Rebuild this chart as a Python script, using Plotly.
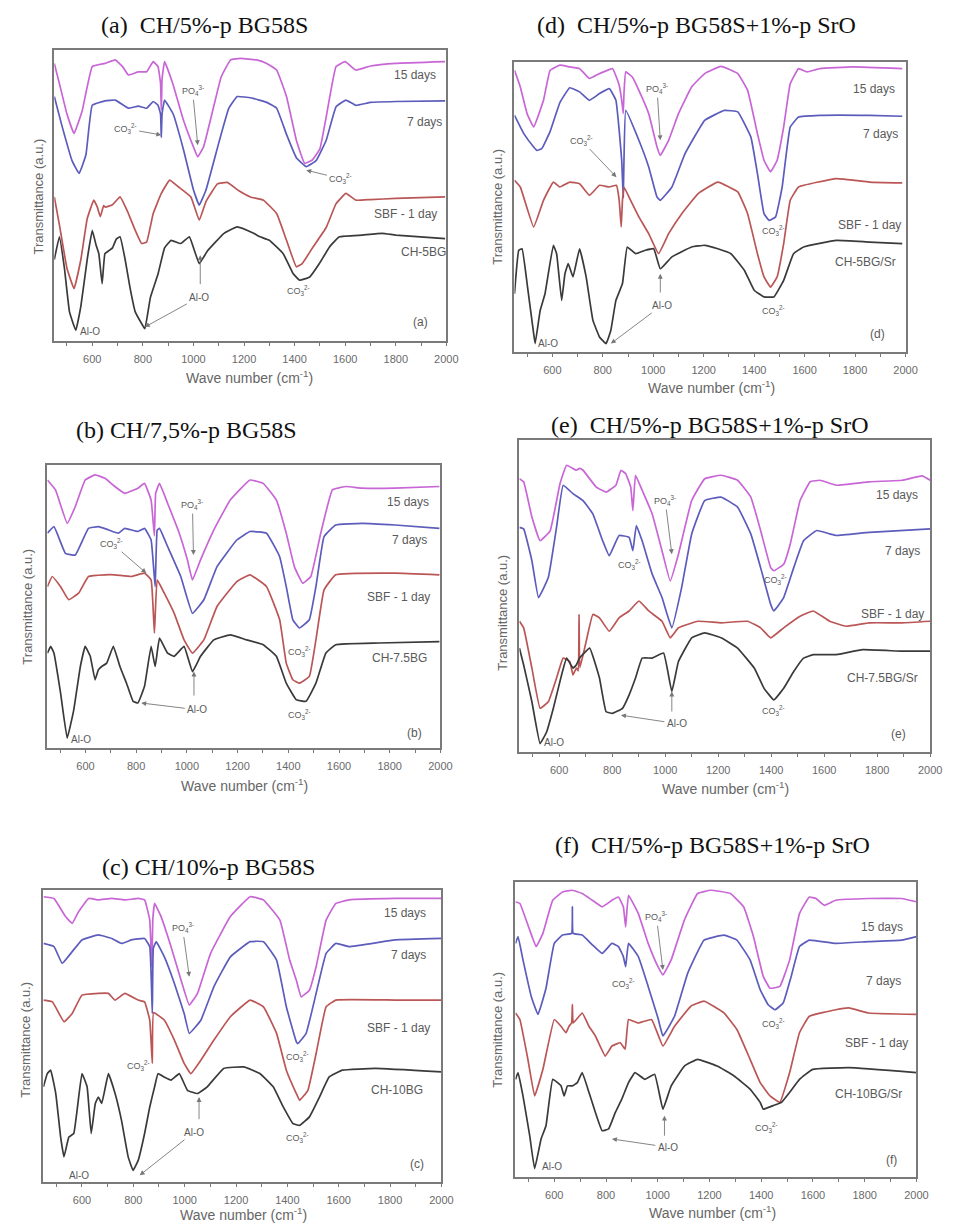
import plotly.graph_objects as go

W, H = 960, 1225

# ---------------- FTIR readings: wave number (cm-1) and transmittance (a.u., 0-100 per panel)
# Panel (a) CH/5%-p BG58S
A15_WN = [450,470,500,528,560,600,650,691,720,743,782,815,841,860,870,873,876,886,920,960,1000,1017,1040,1080,1110,1147,1186,1250,1290,1329,1368,1407,1440,1470,1500,1525,1564,1600,1642,1700,1800,1995]
A15_T = [95.4,88.5,78,71.3,79,94.3,95.4,96.6,94.3,91.4,92.5,92.5,96,94.3,88.5,79.4,90,96,88,76,66.7,63.3,66.7,80.5,90.8,96.6,97.1,96.6,95.4,93.1,84,69,61,62.2,66,77,94.3,96,93.1,94.5,95.4,96]
A7_WN = [450,480,520,548,575,600,650,691,743,782,815,841,860,870,873,876,886,920,960,1000,1023,1050,1100,1140,1173,1230,1290,1329,1368,1407,1446,1485,1525,1564,1603,1642,1700,1800,1995]
A7_T = [84,74,62,57.6,64,81,82.5,82.8,80,80.7,80,82.3,81,78,70,78,82.8,78,66,52,46.7,52,68,80,84,83.5,82,80,71,63,59.9,62,69,80.5,82.8,81,82,82.3,82.5]
A1_WN = [450,470,500,528,555,580,606,620,632,645,652,680,710,743,770,795,815,841,873,906,940,990,1023,1050,1095,1134,1180,1225,1277,1329,1368,1407,1430,1473,1525,1564,1603,1642,1700,1800,1995]
A1_T = [49.5,40,25,18,28,42,48.4,46,42.7,46.5,46,46.8,49.5,43.8,38,33.5,34,43.8,50.7,55.3,53,49.5,41.5,48,54,54.5,51.6,49.5,48.4,43.8,34.6,25.5,26.6,32.3,39,47.2,50.7,48.4,48.6,49,49.5]
A0_WN = [450,470,490,510,535,555,580,600,615,626,639,650,665,680,695,710,730,750,770,795,808,830,860,886,912,950,984,1023,1056,1121,1173,1238,1264,1300,1355,1394,1420,1460,1498,1538,1577,1668,1746,1800,1995]
A0_T = [28,35.8,25,10,3.7,12,28,38,33,30,19.7,30,31,32,35,35.8,28,18,10,6,4.2,15,23,32,34.6,33.5,35.8,26.6,31,37,39.2,37,35.8,34.6,30,23.2,20.9,22,26.6,32.3,35.8,36.4,37,36.4,35.2]

# Panel (b) CH/7,5%-p BG58S
B15_WN = [450,482,528,560,599,638,677,716,755,807,833,859,872,877,892,924,970,1002,1022,1054,1106,1171,1249,1301,1353,1392,1424,1457,1489,1528,1574,1626,1691,1821,1996]
B15_T = [94.7,91.2,79.4,85.3,94.7,96.5,95.3,92.4,90,91.8,93.5,87.6,75,90,93.5,86.5,75.9,66.5,59.4,66.5,77,87.6,94.7,93.5,87.6,75.9,64.1,58.2,60.6,75.9,91.2,92.4,91.8,91.8,92.4]
B7_WN = [450,476,521,560,612,651,690,729,755,807,833,859,875,883,892,924,976,1022,1067,1119,1197,1249,1314,1366,1392,1418,1444,1483,1509,1541,1587,1691,1821,1996]
B7_T = [75.9,78.2,68.8,68.2,77.6,78.2,77.1,75.9,77.6,76.5,77.6,73.5,57,77,77.6,71.2,60.6,47.6,52.4,64.1,73.5,76.5,75.9,67.6,57,45.3,42.4,45.3,57,74.7,78.8,79.4,78.8,77.6]
B1_WN = [450,469,502,534,573,612,677,716,781,833,859,872,883,911,950,989,1022,1067,1119,1197,1249,1314,1366,1392,1418,1444,1483,1509,1541,1587,1821,1996]
B1_T = [57,60.6,57,52.4,54.7,60.6,61.2,61.2,60.6,61.8,59.4,40.6,59.4,54.7,47.6,38.2,33.5,38.2,50,58.8,61.2,57.1,45.3,30,24.1,22.9,25.3,38.2,55.9,61.2,61.8,61.2]
B0_WN = [450,463,476,502,528,554,580,599,619,638,651,664,684,710,736,762,788,807,833,859,875,892,924,950,989,1022,1054,1106,1171,1236,1301,1353,1392,1431,1470,1509,1548,1587,1756,1996]
B0_T = [33.5,35.9,33.5,19.4,3.5,13.5,28.8,35.9,32.4,24.1,27.6,28.8,30,35.9,28.8,22.9,16.5,15.9,21.8,35.9,28.8,38.8,33.5,32.4,35.9,27,32.4,38.2,40,38.2,36.5,32.4,22.9,17.1,16.5,22.9,33.5,36.5,37.1,37.6]

# Panel (c) CH/10%-p BG58S
C15_WN = [450,491,536,562,587,626,664,716,767,819,844,864,872,876,883,908,947,986,1018,1050,1101,1178,1255,1307,1371,1409,1435,1454,1486,1512,1551,1589,1640,1820,2000]
C15_T = [97.7,97.1,90.9,88.6,92.6,97.1,96.6,97.1,96.6,97.1,96.6,89.7,73.7,90,95.4,90.9,80.6,69.1,60.6,64.6,78.3,90.9,97.7,96.6,89.7,76,69.1,63.4,65.7,73.7,89.7,95.4,96.6,97.1,97.1]
C7_WN = [450,491,523,562,600,664,716,754,793,844,864,874,878,889,921,960,998,1018,1063,1114,1178,1255,1307,1358,1396,1435,1441,1473,1512,1551,1589,1640,1820,2000]
C7_T = [81.7,80.6,74.9,78.9,82.9,84.6,83.4,81.7,82.9,83.4,80.6,57.7,80,82.3,77.1,68,57.7,50.9,55.4,66.9,77.1,82.3,82.3,76,60,48,47.4,50.9,64.6,78.3,81.7,80.6,82.9,83.4]
C1_WN = [450,485,530,562,600,664,703,729,767,819,844,864,874,879,921,960,998,1024,1063,1114,1178,1255,1307,1358,1396,1435,1448,1480,1512,1551,1589,1820,2000]
C1_T = [62.3,61.7,54.9,57.7,64,64.6,64.6,62.3,64.6,62.3,61.7,55.4,40.6,58,55.4,48.6,40.6,37.1,41.7,48.6,56.6,62.3,60,50.9,38.3,30.3,28,31.4,44,60,62.3,62.3,62.3]
C0_WN = [450,465,478,498,517,530,549,568,600,620,636,652,664,677,703,729,754,780,799,819,844,864,883,896,921,947,979,1011,1050,1088,1152,1230,1294,1345,1384,1422,1448,1486,1525,1563,1615,1743,2000]
C0_T = [32.6,37.1,38.3,30.3,15.4,8.6,15.4,16.6,37.1,32.6,16.6,26.9,29.1,26.9,37.1,30.3,21.1,8.6,4,7.4,16.6,25.7,32.6,37.1,35.9,34.9,37.1,31.4,30.3,32.6,38.9,39.4,37.1,32.6,25.7,20,19.4,22.3,29.1,36,38.3,38.9,37.7]

# Panel (d) CH/5%-p BG58S+1%-p SrO
D15_WN = [450,473,500,526,565,591,630,669,708,747,787,839,865,875,881,884,891,917,943,982,1015,1028,1061,1100,1152,1204,1269,1335,1374,1413,1439,1465,1491,1517,1543,1576,1609,1661,1791,1987]
D15_T = [97.1,91.4,82.2,77.6,86.8,97.1,98.9,98.3,97.7,94.3,96,97.7,92,86.8,82.2,89.1,96.6,94.8,90.2,82.2,70.7,67.8,73,82.2,91.4,96,98.5,96,90.2,75.3,66.1,62.1,66.1,77.6,92.5,97.7,96.6,97.7,98.3,97.7]
D7_WN = [450,487,526,539,558,591,630,669,708,747,787,826,852,865,875,881,884,891,943,982,1015,1028,1074,1126,1204,1282,1335,1387,1413,1439,1459,1485,1511,1543,1576,1661,1857,1987]
D7_T = [81.6,75.3,70.7,69.5,70.1,76,86,91.1,89.7,86.8,89.1,90.8,86.8,76.4,66.1,53.4,66.1,83.3,73,63.8,53.4,52.3,56.9,68.4,79.9,83.3,82.8,74.1,61.5,47.7,45.4,46.6,56.9,77.6,81,81.6,81.6,81.3]
D1_WN = [450,473,526,565,604,630,669,708,747,787,826,854,865,873,878,884,904,943,982,1021,1061,1113,1178,1256,1335,1374,1413,1439,1465,1491,1517,1543,1576,1726,1857,1987]
D1_T = [59.2,56.9,43.1,52.3,58.6,56.9,58.6,58,54,57.5,56.9,57.5,52.3,43.1,52.3,56.9,53.4,46.6,40.8,33.9,40.8,47.7,54.6,58.6,55.2,47.7,33.9,25.9,22.4,25.9,37.4,52.3,56.9,59.8,58.6,58.3]
D0_WN = [450,467,480,500,526,532,552,571,604,617,637,650,663,682,708,734,761,787,813,832,852,878,897,930,969,1002,1028,1074,1152,1204,1256,1308,1361,1400,1439,1478,1517,1556,1596,1726,1857,1987]
D0_T = [20.1,35.1,35.6,23.6,6.3,2.9,14.4,20.1,36.8,33.9,17.8,27,30.5,25.9,35.6,25.9,10.9,5.2,2.9,7.5,17.8,23.6,36.2,33.9,35.1,35.6,28.7,32.8,36.2,36.8,35.6,33.9,28.2,21.3,19,19,24.7,33.9,36.2,38.5,37.9,37.4]

# Panel (e) CH/5%-p BG58S+1%-p SrO
E15_WN = [450,466,497,528,566,603,628,665,677,690,739,777,814,833,851,870,878,888,913,951,988,1019,1050,1100,1149,1211,1273,1323,1360,1398,1410,1447,1472,1509,1547,1584,1646,1770,1894,1969,2000]
E15_T = [87.6,86.6,75.3,67.7,70.9,86,91.9,90.3,90.9,90.3,85,83.3,85.5,90.3,89.2,84.9,77.4,88.7,83.9,76.3,64.5,54.8,63.4,80.6,87.6,88.7,87.1,81.7,71,59.1,58.1,60.2,66.7,80.6,86.6,87.1,85.5,86.6,87.1,88.5,87.1]
E7_WN = [450,466,497,522,559,590,615,652,690,727,764,789,826,864,878,891,913,951,988,1025,1062,1100,1149,1211,1273,1323,1360,1398,1410,1447,1485,1522,1572,1621,1646,1770,2000]
E7_T = [72,71.5,61.3,49.5,55.9,72,85.5,82.8,80.6,76.3,67.7,62.9,69.4,68.8,64.5,72.6,67.7,57,49.5,39.8,52.7,69.9,80.6,81.7,78.5,69.9,59.1,47.3,45.2,49.5,59.1,67.7,71,69.9,69.4,70.4,71.5]
E1_WN = [450,466,497,528,559,590,615,640,652,665,672,675,678,702,727,752,789,826,864,901,938,988,1019,1050,1124,1211,1311,1360,1398,1447,1509,1559,1621,1683,1770,1894,2000]
E1_T = [41.9,39.8,26.9,14,16.1,23.7,30.1,29,24.7,26.9,26,44.1,27,35.5,44.1,43,38.7,43,45.2,48.4,45.2,41.9,36.6,39.8,41.9,41.4,41.9,39.8,36.6,39.8,43.5,45.2,41.9,40.3,41.4,41.4,41.9]
E0_WN = [450,466,497,528,553,578,609,628,652,665,677,715,752,777,801,839,864,888,913,951,994,1025,1050,1100,1149,1211,1273,1336,1373,1410,1447,1485,1522,1559,1646,1745,1894,2000]
E0_T = [33.3,27.9,16.1,2.7,6.5,14,24.7,30.1,26.9,28,30.1,33.3,23.7,12.9,12.4,14,18.3,23.7,30.1,30.1,31.7,19.4,29,36.6,38.2,36.6,33.3,26.9,20.4,16.7,20.4,25.8,30.1,31.2,31.2,32.8,32.3,32.3]

# Panel (f) CH/5%-p BG58S+1%-p SrO
F15_WN = [450,467,505,530,556,594,632,670,708,747,785,823,848,867,876,887,925,963,1001,1020,1052,1103,1154,1205,1281,1332,1370,1408,1434,1472,1510,1548,1586,1612,1644,1688,1816,1943,2000]
F15_T = [93.3,92.7,83.7,78.1,82.6,93.8,96.6,97.2,96.1,93.8,91.6,93.8,94.9,91.6,84.8,95.5,89.3,79.2,71.3,68.5,73.6,87.1,96.1,97.2,96.1,91.6,81.5,68,64,64.6,73.6,89.3,94.9,94.4,92.1,93.8,94.4,94.4,93.3]
F7_WN = [450,460,479,511,537,568,600,632,667,670,673,708,747,785,823,848,867,876,887,925,963,1001,1020,1065,1116,1179,1256,1306,1357,1396,1427,1453,1485,1516,1548,1586,1688,1816,1943,2000]
F7_T = [79.2,81.5,73.6,61.2,55.1,64,79.2,82,82.6,91.6,82.6,82,78.7,75.8,79.2,78.1,74.7,71.3,79.2,74.7,64.6,53.9,47.8,54.5,69.1,80.3,82,80.3,73.6,63.5,58.4,56.7,59,68,78.1,80.3,79.2,79.8,80.3,81.5]
F1_WN = [450,467,498,524,556,600,626,645,657,667,670,673,708,734,759,797,823,855,874,887,925,976,1020,1065,1128,1179,1256,1306,1357,1396,1434,1472,1510,1548,1586,1688,1739,1816,2000]
F1_T = [55.6,53.4,39.9,27.5,36.5,53.4,51.1,48.9,51.1,52.2,58.4,52.2,55.6,51.1,47.8,41,44.4,45.5,43.3,53.4,52.2,53.4,44.4,51.1,57.9,59.6,55.6,50,39.9,32,27.5,25.3,35.4,48.9,54.5,56.7,57.3,55.6,55.1]
F0_WN = [450,460,479,505,524,549,568,594,626,638,651,670,689,708,734,759,785,810,836,861,887,912,950,988,1020,1052,1103,1154,1230,1294,1357,1396,1408,1446,1478,1510,1548,1599,1739,2000]
F0_T = [33.1,35.4,27.5,14,2.8,12.9,17.4,33.1,30.9,27.5,30.9,30.9,32,35.4,28.7,21.9,15.7,16.3,21.9,26.4,32,35.4,33.1,34.8,23,30.9,37.6,39.9,37.6,34.3,29.8,25.3,23,24.2,25.3,28.7,33.1,36.5,37.1,35.4]

# Axis range and tick labels
WN_RANGE = [450, 2000]
WN_TICKS = [600, 800, 1000, 1200, 1400, 1600, 1800, 2000]

CO3 = "CO<sub>3</sub><sup>2-</sup>"
PO4 = "PO<sub>4</sub><sup>3-</sup>"

# 15 days, 7 days, SBF - 1 day, as-prepared
LINE_COLORS = ["#c866d6", "#5c5cbc", "#bb5656", "#3a3a3a"]

SANS = "Liberation Sans, Arial, sans-serif"
SERIF = "Liberation Serif, Times New Roman, serif"
GREY = "#5a5a5a"

# box = (left, right, top, bottom) in pixels
PANELS = [
    dict(box=(55, 452, 50, 341), title="(a)  CH/5%-p BG58S", title_px=(207, 25),
         xtitle_px=(253, 377), ytitle_px=(38, 197),
         series=[(A15_WN, A15_T), (A7_WN, A7_T), (A1_WN, A1_T), (A0_WN, A0_T)],
         names=[("15 days", 1876, 91.4), ("7 days", 1915, 75.3), ("SBF - 1 day", 1837, 43.8),
                ("CH-5BG", 1909, 30.6), ("(a)", 1896, 6.5)],
         notes=[(CO3, 730, 73, 873, 70.8), (PO4, 997, 86, 1017, 67.3), (CO3, 1583, 55.8, 1446, 58.7),
                (CO3, 1414, 17.4, None, None), ("Al-O", 1023, 15.1, 808, 4.8), ("Al-O", 592, 3.1, None, None)],
         arrows=[(1027, 19, 1027, 29.5)]),
    dict(box=(48, 446, 465, 748), title="(b) CH/7,5%-p BG58S", title_px=(189, 430),
         xtitle_px=(248, 785), ytitle_px=(28, 607),
         series=[(B15_WN, B15_T), (B7_WN, B7_T), (B1_WN, B1_T), (B0_WN, B0_T)],
         names=[("15 days", 1873, 87), ("7 days", 1879, 73.5), ("SBF - 1 day", 1834, 53.5),
                ("CH-7.5BG", 1840, 31.8), ("(b)", 1899, 5.3)],
         notes=[(PO4, 1022, 86, 1026, 68.2), (CO3, 703, 72.4, 840, 61.8), (CO3, 1444, 34.1, None, None),
                (CO3, 1444, 11.8, None, None), ("Al-O", 1041, 13.5, 820, 15.9), ("Al-O", 582, 2.9, None, None)],
         arrows=[(1028, 18, 1028, 27)]),
    dict(box=(44, 447, 890, 1182), title="(c) CH/10%-p BG58S", title_px=(211, 867),
         xtitle_px=(247, 1214), ytitle_px=(25, 1040),
         series=[(C15_WN, C15_T), (C7_WN, C7_T), (C1_WN, C1_T), (C0_WN, C0_T)],
         names=[("15 days", 1859, 92), ("7 days", 1872, 77.7), ("SBF - 1 day", 1833, 52.6),
                ("CH-10BG", 1827, 31.4), ("(c)", 1904, 6.3)],
         notes=[(PO4, 992, 87, 1018, 70.3), (CO3, 819, 40, None, None), (CO3, 1441, 42.9, None, None),
                (CO3, 1441, 15.4, None, None), ("Al-O", 1037, 17.1, 825, 2.3), ("Al-O", 590, 2.3, None, None)],
         arrows=[(1056, 21, 1056, 29.1)]),
    dict(box=(521, 917, 62, 352), title="(d)  CH/5%-p BG58S+1%-p SrO", title_px=(705, 25),
         xtitle_px=(721, 387), ytitle_px=(503, 207),
         series=[(D15_WN, D15_T), (D7_WN, D7_T), (D1_WN, D1_T), (D0_WN, D0_T)],
         names=[("15 days", 1876, 90.8), ("7 days", 1902, 75.3), ("SBF - 1 day", 1856, 43.7),
                ("CH-5BG/Sr", 1843, 31), ("(d)", 1889, 6.3)],
         notes=[(PO4, 1015, 90.8, 1028, 73), (CO3, 715, 73, 854, 60.3), (CO3, 1478, 42, None, None),
                (CO3, 1478, 14.4, None, None), ("Al-O", 1034, 16.1, 832, 2.9), ("Al-O", 582, 2.9, None, None)],
         arrows=[(1028, 20, 1028, 27)]),
    dict(box=(526, 942, 440, 752), title="(e)  CH/5%-p BG58S+1%-p SrO", title_px=(719, 425),
         xtitle_px=(735, 788), ytitle_px=(508, 613),
         series=[(E15_WN, E15_T), (E7_WN, E7_T), (E1_WN, E1_T), (E0_WN, E0_T)],
         names=[("15 days", 1876, 82.3), ("7 days", 1894, 64.5), ("SBF - 1 day", 1857, 44.1),
                ("CH-7.5BG/Sr", 1820, 23.7), ("(e)", 1882, 5.9)],
         notes=[(PO4, 1000, 80.6, 1025, 63.4), (CO3, 864, 60.2, None, None), (CO3, 1416, 55.4, None, None),
                (CO3, 1410, 13.4, None, None), ("Al-O", 1044, 9.1, 833, 11.8), ("Al-O", 582, 3.2, None, None)],
         arrows=[(1025, 12.5, 1025, 19.4)]),
    dict(box=(522, 928, 882, 1177), title="(f)  CH/5%-p BG58S+1%-p SrO", title_px=(722, 845),
         xtitle_px=(722, 1212), ytitle_px=(503, 1030),
         series=[(F15_WN, F15_T), (F7_WN, F7_T), (F1_WN, F1_T), (F0_WN, F0_T)],
         names=[("15 days", 1866, 84.8), ("7 days", 1873, 66.3), ("SBF - 1 day", 1847, 45.5),
                ("CH-10BG/Sr", 1815, 28.1), ("(f)", 1905, 5.6)],
         notes=[(PO4, 995, 88.2, 1020, 70.2), (CO3, 867, 65.7, None, None), (CO3, 1446, 52.2, None, None),
                (CO3, 1421, 16.9, None, None), ("Al-O", 1039, 10.1, 823, 12.9), ("Al-O", 590, 3.4, None, None)],
         arrows=[(1026, 13.5, 1026, 20.8)]),
]

fig = go.Figure()
annotations = []
layout_axes = {}

for i, p in enumerate(PANELS):
    n = i + 1
    suffix = "" if n == 1 else str(n)
    xa, ya = "x" + suffix, "y" + suffix
    left, right, top, bottom = p["box"]

    for (wn, t), color in zip(p["series"], LINE_COLORS):
        fig.add_trace(go.Scatter(
            x=wn, y=t, mode="lines", xaxis=xa, yaxis=ya,
            line=dict(color=color, width=1.7, shape="spline", smoothing=0.3),
            showlegend=False, hoverinfo="skip"))

    layout_axes["xaxis" + suffix] = dict(
        domain=[left / W, right / W], anchor=ya, range=WN_RANGE,
        tickmode="array", tickvals=WN_TICKS, ticktext=[str(v) for v in WN_TICKS],
        ticks="outside", ticklen=3, tickwidth=1, tickcolor="#7a7a7a",
        minor=dict(ticks="outside", ticklen=3, tickcolor="#7a7a7a", dtick=100, tick0=0, showgrid=False),
        ticklabelstandoff=4,
        tickfont=dict(family=SANS, size=11, color="#6a6a6a"),
        showline=True, linecolor="#7a7a7a", linewidth=1.6, mirror=True,
        showgrid=False, zeroline=False)
    layout_axes["yaxis" + suffix] = dict(
        domain=[1 - bottom / H, 1 - top / H], anchor=xa, range=[0, 100],
        showticklabels=False, ticks="",
        showline=True, linecolor="#7a7a7a", linewidth=1.6, mirror=True,
        showgrid=False, zeroline=False)

    # panel heading
    tx, ty = p["title_px"]
    annotations.append(dict(xref="paper", yref="paper", x=tx / W, y=1 - ty / H, text=p["title"],
                            showarrow=False, xanchor="center", yanchor="middle",
                            font=dict(family=SERIF, size=24, color="#111111")))
    # axis titles
    xx, xy = p["xtitle_px"]
    annotations.append(dict(xref="paper", yref="paper", x=xx / W, y=1 - xy / H,
                            text="Wave number (cm<sup>-1</sup>)", showarrow=False,
                            xanchor="center", yanchor="middle",
                            font=dict(family=SANS, size=14, color="#666666")))
    yx, yy = p["ytitle_px"]
    annotations.append(dict(xref="paper", yref="paper", x=yx / W, y=1 - yy / H,
                            text="Transmittance (a.u.)", showarrow=False, textangle=-90,
                            xanchor="center", yanchor="middle",
                            font=dict(family=SANS, size=13, color="#666666")))

    # series names and panel letter
    for text, x, y in p["names"]:
        annotations.append(dict(xref=xa, yref=ya, x=x, y=y, text=text, showarrow=False,
                                xanchor="center", yanchor="middle",
                                font=dict(family=SANS, size=12, color=GREY)))

    # band assignments
    for text, x, y, hx, hy in p["notes"]:
        size = 10 if text == "Al-O" else 9
        if hx is None:
            annotations.append(dict(xref=xa, yref=ya, x=x, y=y, text=text, showarrow=False,
                                    xanchor="center", yanchor="middle",
                                    font=dict(family=SANS, size=size, color=GREY)))
        else:
            annotations.append(dict(xref=xa, yref=ya, axref=xa, ayref=ya, x=hx, y=hy, ax=x, ay=y,
                                    text=text, showarrow=True, arrowhead=2, arrowsize=1.1,
                                    arrowwidth=0.9, arrowcolor="#777777", standoff=0, startstandoff=1,
                                    font=dict(family=SANS, size=size, color=GREY)))
    for ax_, ay_, hx, hy in p["arrows"]:
        annotations.append(dict(xref=xa, yref=ya, axref=xa, ayref=ya, x=hx, y=hy, ax=ax_, ay=ay_,
                                text="", showarrow=True, arrowhead=2, arrowsize=1.1,
                                arrowwidth=0.9, arrowcolor="#777777"))

fig.update_layout(
    width=W, height=H,
    margin=dict(l=0, r=0, t=0, b=0),
    paper_bgcolor="white", plot_bgcolor="white",
    annotations=annotations,
    **layout_axes)

fig.write_html("out.html", config={"displayModeBar": False})
